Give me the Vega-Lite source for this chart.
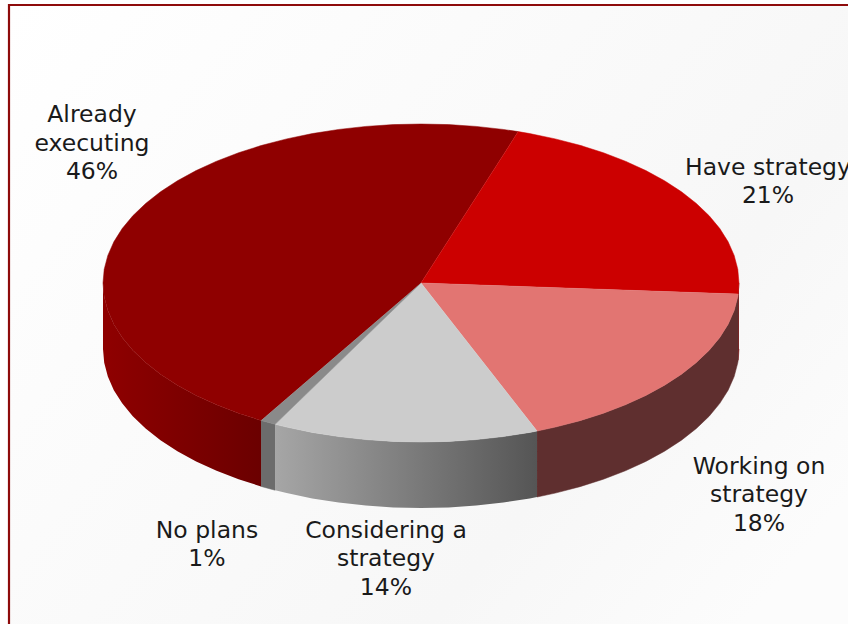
{
"$schema":"https://vega.github.io/schema/vega-lite/v6.json",
"width":848,"height":624,"padding":0,
"autosize":{"type":"none"},
"background":"white",
"config":{"view":{"stroke":null}},
"datasets":{
"frame":[{"x":-1.2956,"x2":1.6,"y":1.7484,"y2":-2.4}],
"labels":[
{"label":["Already","executing","46%"],"x":-1.0346,"y":1.0566},
{"label":["Have strategy","21%"],"x":1.0912,"y":0.7233},
{"label":["Working on","strategy","18%"],"x":1.0629,"y":-1.1572},
{"label":["Considering a","strategy","14%"],"x":-0.1101,"y":-1.5597},
{"label":["No plans","1%"],"x":-0.673,"y":-1.5597}
],
"have_side":[{"i":0,"x":1,"y":0},{"i":1,"x":0.9976,"y":-0.0698},{"i":2,"x":0.9976,"y":-0.4848},{"i":3,"x":1,"y":-0.415}],
"working_side":[{"i":0,"x":0.9976,"y":-0.0698},{"i":1,"x":0.9962,"y":-0.0872},{"i":2,"x":0.9848,"y":-0.1736},{"i":3,"x":0.9659,"y":-0.2588},{"i":4,"x":0.9397,"y":-0.342},{"i":5,"x":0.9063,"y":-0.4226},{"i":6,"x":0.866,"y":-0.5},{"i":7,"x":0.8192,"y":-0.5736},{"i":8,"x":0.766,"y":-0.6428},{"i":9,"x":0.7071,"y":-0.7071},{"i":10,"x":0.6428,"y":-0.766},{"i":11,"x":0.5736,"y":-0.8192},{"i":12,"x":0.5,"y":-0.866},{"i":13,"x":0.4226,"y":-0.9063},{"i":14,"x":0.3649,"y":-0.9311},{"i":15,"x":0.3649,"y":-1.3461},{"i":16,"x":0.4226,"y":-1.3213},{"i":17,"x":0.5,"y":-1.281},{"i":18,"x":0.5736,"y":-1.2342},{"i":19,"x":0.6428,"y":-1.181},{"i":20,"x":0.7071,"y":-1.1221},{"i":21,"x":0.766,"y":-1.0578},{"i":22,"x":0.8192,"y":-0.9886},{"i":23,"x":0.866,"y":-0.915},{"i":24,"x":0.9063,"y":-0.8376},{"i":25,"x":0.9397,"y":-0.757},{"i":26,"x":0.9659,"y":-0.6738},{"i":27,"x":0.9848,"y":-0.5886},{"i":28,"x":0.9962,"y":-0.5022},{"i":29,"x":0.9976,"y":-0.4848}],
"considering_side":[{"i":0,"x":0.3649,"y":-0.9311},{"i":1,"x":0.342,"y":-0.9397},{"i":2,"x":0.2588,"y":-0.9659},{"i":3,"x":0.1736,"y":-0.9848},{"i":4,"x":0.0872,"y":-0.9962},{"i":5,"x":0,"y":-1},{"i":6,"x":-0.0872,"y":-0.9962},{"i":7,"x":-0.1736,"y":-0.9848},{"i":8,"x":-0.2588,"y":-0.9659},{"i":9,"x":-0.342,"y":-0.9397},{"i":10,"x":-0.4226,"y":-0.9063},{"i":11,"x":-0.4587,"y":-0.8886},{"i":12,"x":-0.4587,"y":-1.3036},{"i":13,"x":-0.4226,"y":-1.3213},{"i":14,"x":-0.342,"y":-1.3547},{"i":15,"x":-0.2588,"y":-1.3809},{"i":16,"x":-0.1736,"y":-1.3998},{"i":17,"x":-0.0872,"y":-1.4112},{"i":18,"x":0,"y":-1.415},{"i":19,"x":0.0872,"y":-1.4112},{"i":20,"x":0.1736,"y":-1.3998},{"i":21,"x":0.2588,"y":-1.3809},{"i":22,"x":0.342,"y":-1.3547},{"i":23,"x":0.3649,"y":-1.3461}],
"noplans_side":[{"i":0,"x":-0.4587,"y":-0.8886},{"i":1,"x":-0.503,"y":-0.8643},{"i":2,"x":-0.503,"y":-1.2793},{"i":3,"x":-0.4587,"y":-1.3036}],
"already_side":[{"i":0,"x":-0.503,"y":-0.8643},{"i":1,"x":-0.5736,"y":-0.8192},{"i":2,"x":-0.6428,"y":-0.766},{"i":3,"x":-0.7071,"y":-0.7071},{"i":4,"x":-0.766,"y":-0.6428},{"i":5,"x":-0.8192,"y":-0.5736},{"i":6,"x":-0.866,"y":-0.5},{"i":7,"x":-0.9063,"y":-0.4226},{"i":8,"x":-0.9397,"y":-0.342},{"i":9,"x":-0.9659,"y":-0.2588},{"i":10,"x":-0.9848,"y":-0.1736},{"i":11,"x":-0.9962,"y":-0.0872},{"i":12,"x":-1,"y":0},{"i":13,"x":-1,"y":-0.415},{"i":14,"x":-0.9962,"y":-0.5022},{"i":15,"x":-0.9848,"y":-0.5886},{"i":16,"x":-0.9659,"y":-0.6738},{"i":17,"x":-0.9397,"y":-0.757},{"i":18,"x":-0.9063,"y":-0.8376},{"i":19,"x":-0.866,"y":-0.915},{"i":20,"x":-0.8192,"y":-0.9886},{"i":21,"x":-0.766,"y":-1.0578},{"i":22,"x":-0.7071,"y":-1.1221},{"i":23,"x":-0.6428,"y":-1.181},{"i":24,"x":-0.5736,"y":-1.2342},{"i":25,"x":-0.503,"y":-1.2793}],
"have_top":[{"i":0,"x":0,"y":0},{"i":1,"x":0.3057,"y":0.9521},{"i":2,"x":0.342,"y":0.9397},{"i":3,"x":0.4226,"y":0.9063},{"i":4,"x":0.5,"y":0.866},{"i":5,"x":0.5736,"y":0.8192},{"i":6,"x":0.6428,"y":0.766},{"i":7,"x":0.7071,"y":0.7071},{"i":8,"x":0.766,"y":0.6428},{"i":9,"x":0.8192,"y":0.5736},{"i":10,"x":0.866,"y":0.5},{"i":11,"x":0.9063,"y":0.4226},{"i":12,"x":0.9397,"y":0.342},{"i":13,"x":0.9659,"y":0.2588},{"i":14,"x":0.9848,"y":0.1736},{"i":15,"x":0.9962,"y":0.0872},{"i":16,"x":1,"y":0},{"i":17,"x":0.9976,"y":-0.0698}],
"working_top":[{"i":0,"x":0,"y":0},{"i":1,"x":0.9976,"y":-0.0698},{"i":2,"x":0.9962,"y":-0.0872},{"i":3,"x":0.9848,"y":-0.1736},{"i":4,"x":0.9659,"y":-0.2588},{"i":5,"x":0.9397,"y":-0.342},{"i":6,"x":0.9063,"y":-0.4226},{"i":7,"x":0.866,"y":-0.5},{"i":8,"x":0.8192,"y":-0.5736},{"i":9,"x":0.766,"y":-0.6428},{"i":10,"x":0.7071,"y":-0.7071},{"i":11,"x":0.6428,"y":-0.766},{"i":12,"x":0.5736,"y":-0.8192},{"i":13,"x":0.5,"y":-0.866},{"i":14,"x":0.4226,"y":-0.9063},{"i":15,"x":0.3649,"y":-0.9311}],
"considering_top":[{"i":0,"x":0,"y":0},{"i":1,"x":0.3649,"y":-0.9311},{"i":2,"x":0.342,"y":-0.9397},{"i":3,"x":0.2588,"y":-0.9659},{"i":4,"x":0.1736,"y":-0.9848},{"i":5,"x":0.0872,"y":-0.9962},{"i":6,"x":0,"y":-1},{"i":7,"x":-0.0872,"y":-0.9962},{"i":8,"x":-0.1736,"y":-0.9848},{"i":9,"x":-0.2588,"y":-0.9659},{"i":10,"x":-0.342,"y":-0.9397},{"i":11,"x":-0.4226,"y":-0.9063},{"i":12,"x":-0.4587,"y":-0.8886}],
"noplans_top":[{"i":0,"x":0,"y":0},{"i":1,"x":-0.4587,"y":-0.8886},{"i":2,"x":-0.503,"y":-0.8643}],
"already_top":[{"i":0,"x":0,"y":0},{"i":1,"x":-0.503,"y":-0.8643},{"i":2,"x":-0.5736,"y":-0.8192},{"i":3,"x":-0.6428,"y":-0.766},{"i":4,"x":-0.7071,"y":-0.7071},{"i":5,"x":-0.766,"y":-0.6428},{"i":6,"x":-0.8192,"y":-0.5736},{"i":7,"x":-0.866,"y":-0.5},{"i":8,"x":-0.9063,"y":-0.4226},{"i":9,"x":-0.9397,"y":-0.342},{"i":10,"x":-0.9659,"y":-0.2588},{"i":11,"x":-0.9848,"y":-0.1736},{"i":12,"x":-0.9962,"y":-0.0872},{"i":13,"x":-1,"y":0},{"i":14,"x":-0.9962,"y":0.0872},{"i":15,"x":-0.9848,"y":0.1736},{"i":16,"x":-0.9659,"y":0.2588},{"i":17,"x":-0.9397,"y":0.342},{"i":18,"x":-0.9063,"y":0.4226},{"i":19,"x":-0.866,"y":0.5},{"i":20,"x":-0.8192,"y":0.5736},{"i":21,"x":-0.766,"y":0.6428},{"i":22,"x":-0.7071,"y":0.7071},{"i":23,"x":-0.6428,"y":0.766},{"i":24,"x":-0.5736,"y":0.8192},{"i":25,"x":-0.5,"y":0.866},{"i":26,"x":-0.4226,"y":0.9063},{"i":27,"x":-0.342,"y":0.9397},{"i":28,"x":-0.2588,"y":0.9659},{"i":29,"x":-0.1736,"y":0.9848},{"i":30,"x":-0.0872,"y":0.9962},{"i":31,"x":0,"y":1},{"i":32,"x":0.0872,"y":0.9962},{"i":33,"x":0.1736,"y":0.9848},{"i":34,"x":0.2588,"y":0.9659},{"i":35,"x":0.3057,"y":0.9521}]
},
"encoding":{
"x":{"field":"x","type":"quantitative","axis":null,"scale":{"domain":[-1.3239,1.3428],"zero":false,"nice":false}},
"y":{"field":"y","type":"quantitative","axis":null,"scale":{"domain":[-2.1447,1.7799],"zero":false,"nice":false}}
},
"layer":[
{"data":{"name":"frame"},"mark":{"type":"rect","clip":true,"stroke":"#8e0b0b","strokeWidth":2.2,"fill":{"gradient":"linear","x1":0,"y1":0,"x2":1,"y2":0.6,"stops":[{"offset":0,"color":"#ffffff"},{"offset":0.75,"color":"#f7f7f7"},{"offset":1,"color":"#fcfcfc"}]}},"encoding":{"x2":{"field":"x2"},"y2":{"field":"y2"}}},
{"data":{"name":"have_side"},"mark":{"type":"line","fill":"#6e0000","stroke":"#6e0000","strokeWidth":0.5},"encoding":{"order":{"field":"i","type":"ordinal"}}},
{"data":{"name":"working_side"},"mark":{"type":"line","fill":"#5f2f2f","stroke":"#5f2f2f","strokeWidth":0.5},"encoding":{"order":{"field":"i","type":"ordinal"}}},
{"data":{"name":"considering_side"},"mark":{"type":"line","strokeWidth":0,"fill":{"gradient":"linear","x1":0,"y1":0,"x2":1,"y2":0,"stops":[{"offset":0,"color":"#a6a6a6"},{"offset":1,"color":"#555555"}]}},"encoding":{"order":{"field":"i","type":"ordinal"}}},
{"data":{"name":"noplans_side"},"mark":{"type":"line","fill":"#6c6c6c","stroke":"#6c6c6c","strokeWidth":0.5},"encoding":{"order":{"field":"i","type":"ordinal"}}},
{"data":{"name":"already_side"},"mark":{"type":"line","strokeWidth":0,"fill":{"gradient":"linear","x1":0,"y1":0,"x2":1,"y2":0,"stops":[{"offset":0,"color":"#8f0000"},{"offset":1,"color":"#6b0000"}]}},"encoding":{"order":{"field":"i","type":"ordinal"}}},
{"data":{"name":"already_top"},"mark":{"type":"line","fill":"#8f0000","stroke":"#8f0000","strokeWidth":0.5},"encoding":{"order":{"field":"i","type":"ordinal"}}},
{"data":{"name":"have_top"},"mark":{"type":"line","fill":"#cc0000","stroke":"#cc0000","strokeWidth":0.5},"encoding":{"order":{"field":"i","type":"ordinal"}}},
{"data":{"name":"working_top"},"mark":{"type":"line","fill":"#e27572","stroke":"#e27572","strokeWidth":0.5},"encoding":{"order":{"field":"i","type":"ordinal"}}},
{"data":{"name":"considering_top"},"mark":{"type":"line","fill":"#cccccc","stroke":"#cccccc","strokeWidth":0.5},"encoding":{"order":{"field":"i","type":"ordinal"}}},
{"data":{"name":"noplans_top"},"mark":{"type":"line","fill":"#8a8a8a","stroke":"#8a8a8a","strokeWidth":0.5},"encoding":{"order":{"field":"i","type":"ordinal"}}},
{"data":{"name":"labels"},"mark":{"type":"text","font":"DejaVu Sans","fontSize":23.5,"lineHeight":28.5,"align":"center","baseline":"middle","color":"#1a1a1a"},"encoding":{"text":{"field":"label"}}}
]
}
